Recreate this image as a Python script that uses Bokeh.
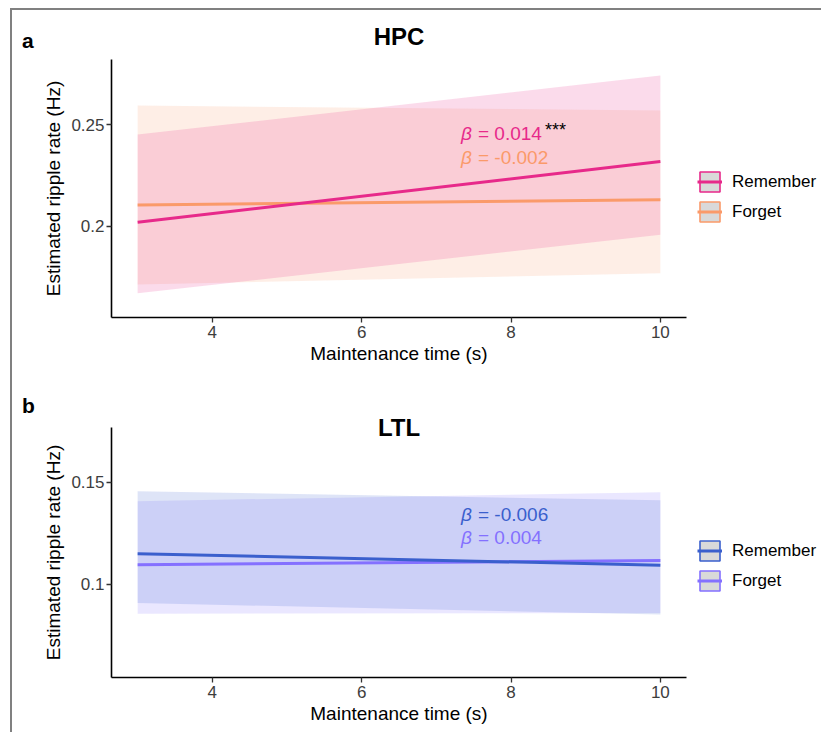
from bokeh.plotting import figure
from bokeh.models import Range1d, FixedTicker, Legend, LegendItem, ColumnDataSource, Div
from bokeh.layouts import column, row
from bokeh.embed import file_html
from bokeh.resources import INLINE
from bokeh.core.properties import value

FONT = "Liberation Sans"
NAN = float("nan")

# ---------------- data ----------------
time_s = [3, 10]
x_ticks = [4, 6, 8, 10]
x_tick_labels = ["4", "6", "8", "10"]

groups = ["Remember", "Forget"]

hpc_y_ticks = [0.2, 0.25]
hpc_y_tick_labels = ["0.2", "0.25"]
hpc_remember_fit = [0.2020, 0.2319]
hpc_remember_lo = [0.1670, 0.1958]
hpc_remember_hi = [0.2452, 0.2743]
hpc_forget_fit = [0.2105, 0.2130]
hpc_forget_lo = [0.1713, 0.1768]
hpc_forget_hi = [0.2595, 0.2571]
hpc_beta = ["= 0.014", "= -0.002"]
hpc_stars = ["***", ""]

ltl_y_ticks = [0.1, 0.15]
ltl_y_tick_labels = ["0.1", "0.15"]
ltl_remember_fit = [0.1150, 0.1094]
ltl_remember_lo = [0.0909, 0.0853]
ltl_remember_hi = [0.1456, 0.1411]
ltl_forget_fit = [0.1096, 0.1117]
ltl_forget_lo = [0.0857, 0.0860]
ltl_forget_hi = [0.1407, 0.1451]
ltl_beta = ["= -0.006", "= 0.004"]
ltl_stars = ["", ""]

# ---------------- styles ----------------
HPC_COLORS = ["#E7298A", "#FA9A6A"]
LTL_COLORS = ["#3A5FCD", "#8470FF"]


def make_panel(title, fits, los, his, colors, y_range, y_ticks, y_tick_labels,
               betas, stars, ann_y, title_standoff, legend_y,
               frame_h, top, bottom):
    p = figure(frame_width=575, frame_height=frame_h,
               x_range=Range1d(2.65, 10.35), y_range=Range1d(*y_range),
               output_backend="svg", toolbar_location=None,
               min_border_left=71, min_border_right=131,
               min_border_top=top, min_border_bottom=bottom,
               background_fill_color="white", border_fill_color="white")
    p.outline_line_color = None
    p.grid.visible = False

    p.title.text = title
    p.title.align = "center"
    p.title.text_font = FONT
    p.title.text_font_size = "24px"
    p.title.text_font_style = "bold"
    p.title.text_color = "black"
    p.title.standoff = title_standoff

    # ribbons (Forget first, then Remember)
    for i in (1, 0):
        p.varea(x=time_s, y1=los[i], y2=his[i], fill_color=colors[i], fill_alpha=0.17)
    line_r = {}
    for i in (1, 0):
        line_r[i] = p.line(x=time_s, y=fits[i], line_color=colors[i], line_width=3)

    # legend keys (grey box with coloured border + line)
    items = []
    for i in (0, 1):
        src = ColumnDataSource(dict(x=[NAN], y=[NAN]))
        key = p.rect(x="x", y="y", width=1, height=1, source=src,
                     fill_color="#d9d9d9", line_color=colors[i], line_width=1.6)
        items.append(LegendItem(label=groups[i], renderers=[key, line_r[i]]))
    legend = Legend(items=items, location=(11, legend_y), orientation="vertical",
                    glyph_width=25, glyph_height=25, spacing=5, padding=0, margin=0,
                    label_standoff=10, label_text_font=FONT, label_text_font_size="17px",
                    label_text_color="black", border_line_color=None,
                    background_fill_alpha=0)
    p.add_layout(legend, "right")

    # beta annotations
    ann_x = 7.33
    src = ColumnDataSource(dict(x=[ann_x, ann_x], y=ann_y, beta=betas,
                                stars=stars, color=colors))
    p.text(x="x", y="y", text=value("β"), source=src, text_color="color",
           text_font=value(FONT), text_font_size="19px", text_font_style="italic",
           text_baseline="middle", text_align="left")
    p.text(x="x", y="y", text="beta", source=src, text_color="color",
           text_font=value(FONT), text_font_size="19px", x_offset=17,
           text_baseline="middle", text_align="left")
    p.text(x="x", y="y", text="stars", source=src, text_color="black",
           text_font=value(FONT), text_font_size="18px", x_offset=84, y_offset=-3,
           text_baseline="middle", text_align="left")

    # axes
    p.xaxis.ticker = FixedTicker(ticks=x_ticks)
    p.xaxis.major_label_overrides = dict(zip(x_ticks, x_tick_labels))
    p.yaxis.ticker = FixedTicker(ticks=y_ticks)
    p.yaxis.major_label_overrides = dict(zip(y_ticks, y_tick_labels))
    p.xaxis.axis_label = "Maintenance time (s)"
    p.yaxis.axis_label = "Estimated ripple rate (Hz)"
    for ax in (p.xaxis, p.yaxis):
        ax.axis_line_color = "black"
        ax.axis_line_width = 1.6
        ax.major_tick_line_color = "#333333"
        ax.major_tick_line_width = 1.3
        ax.major_tick_out = 5
        ax.major_tick_in = 0
        ax.minor_tick_line_color = None
        ax.major_label_text_font = FONT
        ax.major_label_text_font_size = "17px"
        ax.major_label_text_color = "#3d3d3d"
        ax.axis_label_text_font = FONT
        ax.axis_label_text_font_size = "19px"
        ax.axis_label_text_font_style = "normal"
        ax.axis_label_text_color = "black"
    p.xaxis.major_label_standoff = 3
    p.xaxis.axis_label_standoff = 2
    p.yaxis.major_label_standoff = 2
    p.yaxis.axis_label_standoff = 4
    return p


def letter_div(letter, height):
    html = ('<div style="font-family:\'Liberation Sans\';font-size:21px;font-weight:bold;'
            'line-height:1.15;color:black;padding:19px 0 0 10px;">%s</div>' % letter)
    return Div(text=html, width=28, height=height, margin=0)


pa = make_panel("HPC",
                [hpc_remember_fit, hpc_forget_fit],
                [hpc_remember_lo, hpc_forget_lo],
                [hpc_remember_hi, hpc_forget_hi],
                HPC_COLORS, (0.1550, 0.2822), hpc_y_ticks, hpc_y_tick_labels,
                hpc_beta, hpc_stars, [0.2459, 0.2339], 20, 93,
                258, 49, 58)

pb = make_panel("LTL",
                [ltl_remember_fit, ltl_forget_fit],
                [ltl_remember_lo, ltl_forget_lo],
                [ltl_remember_hi, ltl_forget_hi],
                LTL_COLORS, (0.0545, 0.1767), ltl_y_ticks, ltl_y_tick_labels,
                ltl_beta, ltl_stars, [0.1342, 0.1227], -26, 84,
                250, 52, 55)

layout = column(row(letter_div("a", 365), pa, spacing=0),
                row(letter_div("b", 357), pb, spacing=0),
                spacing=0, margin=(8, 0, 0, 10),
                styles={"border-left": "2px solid #808080", "border-top": "2px solid #808080"})

open("out.html", "w").write(file_html(layout, INLINE))
